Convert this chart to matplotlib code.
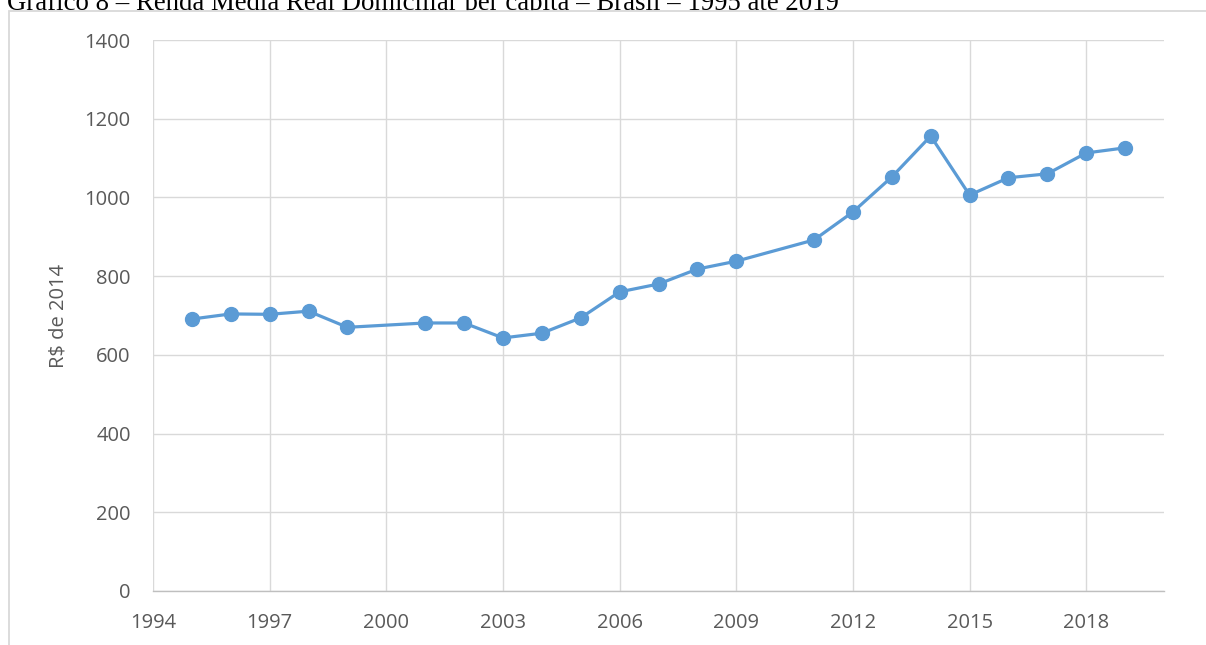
import matplotlib
matplotlib.use('Agg')
import matplotlib.pyplot as plt
from matplotlib.patches import Rectangle

# Renda media real domiciliar per capita (R$ de 2014)
years = [1995, 1996, 1997, 1998, 1999, 2001, 2002, 2003, 2004, 2005, 2006,
         2007, 2008, 2009, 2011, 2012, 2013, 2014, 2015, 2016, 2017, 2018, 2019]
renda = [691, 704, 703, 711, 670, 681, 681, 643, 655, 694, 760,
         780, 818, 838, 892, 963, 1052, 1156, 1006, 1050, 1060, 1113, 1126]
x_ticks = [1994, 1997, 2000, 2003, 2006, 2009, 2012, 2015, 2018]
y_ticks = [0, 200, 400, 600, 800, 1000, 1200, 1400]

W, H = 1206, 645
fig = plt.figure(figsize=(W / 100, H / 100), dpi=100)

# plot area in pixels
left, right, top, bottom = 153, 1164, 40, 591
ax = fig.add_axes([left / W, 1 - bottom / H, (right - left) / W, (bottom - top) / H])
ax.set_zorder(5)

ax.plot(years, renda, color='#5B9BD5', linewidth=2.3, marker='o',
        markersize=10, zorder=3)

ax.set_xlim(1994, 2020)
ax.set_ylim(0, 1400)
ax.set_xticks(x_ticks)
ax.set_yticks(y_ticks)
ax.grid(True, color='#D9D9D9', linewidth=1)
ax.set_axisbelow(True)
for s in ['top', 'right', 'left']:
    ax.spines[s].set_visible(False)
ax.spines['bottom'].set_color('#BFBFBF')
ax.spines['bottom'].set_linewidth(1)
ax.tick_params(length=0, labelsize=14.5, colors='#595959', pad=15.5)
ax.tick_params(axis='y', pad=16)
for lab in ax.get_xticklabels() + ax.get_yticklabels():
    lab.set_fontfamily('Open Sans')
ax.set_ylabel('R$ de 2014', fontsize=14.5, color='#595959', family='Open Sans',
              labelpad=11.5)

# chart frame (white, hides title descenders)
frame = Rectangle((9 / W, -0.1), 1.2, 1 - 11 / H + 0.1,
                  transform=fig.transFigure, facecolor='white',
                  edgecolor='#D9D9D9', linewidth=1.3, clip_on=False, zorder=4)
fig.patches.append(frame)

fig.text(7 / W, 1 - 10 / H,
         'Gráfico 8 – Renda Média Real Domiciliar per capita – Brasil – 1995 até 2019',
         family='Liberation Serif', fontsize=19.3, va='baseline', ha='left',
         zorder=3)

fig.savefig('out.png', dpi=100)
